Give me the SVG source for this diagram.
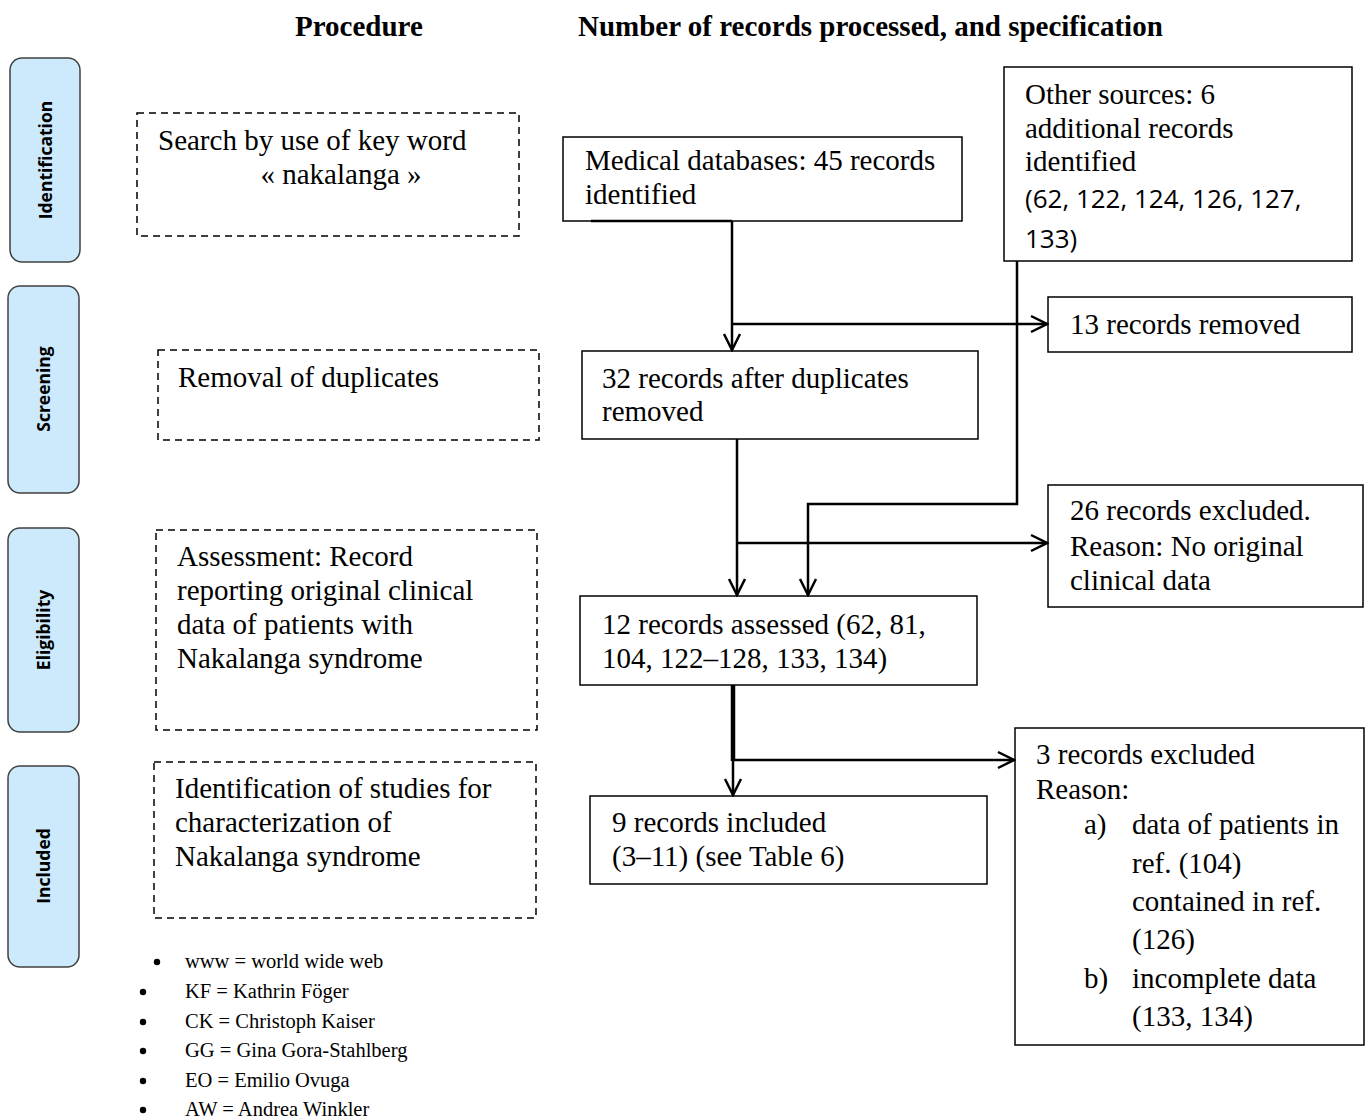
<svg xmlns="http://www.w3.org/2000/svg" width="1366" height="1118" viewBox="0 0 1366 1118">
<style>
.t{font-family:"Liberation Serif","Times New Roman",serif;font-size:29px;fill:#000}
.h{font-family:"Liberation Serif","Times New Roman",serif;font-size:29px;font-weight:bold;fill:#000}
.c{font-family:"Open Sans","Noto Sans",sans-serif;font-size:26px;fill:#000}
.s{font-family:"Liberation Serif","Times New Roman",serif;font-size:20.5px;fill:#000}
.side{fill:#cdeafc;stroke:#404040;stroke-width:1.5}
.sl{font-family:"Open Sans","Noto Sans",sans-serif;font-size:17.5px;font-weight:bold;fill:#000}
.dash{fill:none;stroke:#000;stroke-width:1.5;stroke-dasharray:7,5}
.box{fill:#fff;stroke:#000;stroke-width:1.5}
.ln{fill:none;stroke:#000;stroke-width:2.5}
</style>
<defs>
<marker id="arr" viewBox="0 0 20 20" refX="18" refY="10" markerWidth="20" markerHeight="20" markerUnits="userSpaceOnUse" orient="auto">
<path d="M2,2 L18,10 L2,18" fill="none" stroke="#000" stroke-width="2.5"/>
</marker>
</defs>
<rect width="1366" height="1118" fill="#fff"/>
<g id="headers">
<text class="h" x="295" y="36">Procedure</text>
<text class="h" x="578" y="36">Number of records processed, and specification</text>
</g>
<g id="side-identification"><rect class="side" x="10" y="58" width="70" height="204" rx="12"/><text class="sl" transform="translate(52,160) rotate(-90)" text-anchor="middle">Identification</text></g>
<g id="side-screening"><rect class="side" x="8" y="286" width="71" height="207" rx="12"/><text class="sl" transform="translate(50,389) rotate(-90)" text-anchor="middle">Screening</text></g>
<g id="side-eligibility"><rect class="side" x="8" y="528" width="71" height="204" rx="12"/><text class="sl" transform="translate(50,630) rotate(-90)" text-anchor="middle">Eligibility</text></g>
<g id="side-included"><rect class="side" x="8" y="766" width="71" height="201" rx="12"/><text class="sl" transform="translate(50,866) rotate(-90)" text-anchor="middle">Included</text></g>
<g id="proc-search"><rect class="dash" x="137" y="113" width="382" height="123"/><text class="t" x="158" y="150">Search by use of key word</text><text class="t" x="341" y="184" text-anchor="middle">« nakalanga »</text></g>
<g id="proc-dup"><rect class="dash" x="158" y="350" width="381" height="90"/><text class="t" x="178" y="387">Removal of duplicates</text></g>
<g id="proc-assess"><rect class="dash" x="156" y="530" width="381" height="200"/><text class="t" x="177" y="566">Assessment: Record</text><text class="t" x="177" y="600">reporting original clinical</text><text class="t" x="177" y="634">data of patients with</text><text class="t" x="177" y="668">Nakalanga syndrome</text></g>
<g id="proc-ident"><rect class="dash" x="154" y="762" width="382" height="156"/><text class="t" x="175" y="798">Identification of studies for</text><text class="t" x="175" y="832">characterization of</text><text class="t" x="175" y="866">Nakalanga syndrome</text></g>
<g id="n-medical"><rect class="box" x="563" y="137" width="399" height="84"/><text class="t" x="585" y="170">Medical databases: 45 records</text><text class="t" x="585" y="204">identified</text></g>
<g id="n-other"><rect class="box" x="1004" y="67" width="348" height="194"/><text class="t" x="1025" y="104">Other sources: 6</text><text class="t" x="1025" y="138">additional records</text><text class="t" x="1025" y="171">identified</text><text class="c" x="1025" y="208">(62, 122, 124, 126, 127,</text><text class="c" x="1025" y="248">133)</text></g>
<g id="n-removed"><rect class="box" x="1048" y="297" width="304" height="55"/><text class="t" x="1070" y="334">13 records removed</text></g>
<g id="n-32"><rect class="box" x="582" y="351" width="396" height="88"/><text class="t" x="602" y="388">32 records after duplicates</text><text class="t" x="602" y="421">removed</text></g>
<g id="n-26"><rect class="box" x="1048" y="485" width="315" height="122"/><text class="t" x="1070" y="520">26 records excluded.</text><text class="t" x="1070" y="556">Reason: No original</text><text class="t" x="1070" y="590">clinical data</text></g>
<g id="n-12"><rect class="box" x="580" y="596" width="397" height="89"/><text class="t" x="602" y="634">12 records assessed (62, 81,</text><text class="t" x="602" y="668">104, 122–128, 133, 134)</text></g>
<g id="n-9"><rect class="box" x="590" y="796" width="397" height="88"/><text class="t" x="612" y="832">9 records included</text><text class="t" x="612" y="866">(3–11) (see Table 6)</text></g>
<g id="n-3"><rect class="box" x="1015" y="728" width="349" height="317"/><text class="t" x="1036" y="764">3 records excluded</text><text class="t" x="1036" y="799">Reason:</text><text class="t" x="1084" y="834">a)</text><text class="t" x="1132" y="834">data of patients in</text><text class="t" x="1132" y="873">ref. (104)</text><text class="t" x="1132" y="911">contained in ref.</text><text class="t" x="1132" y="949">(126)</text><text class="t" x="1084" y="988">b)</text><text class="t" x="1132" y="988">incomplete data</text><text class="t" x="1132" y="1026">(133, 134)</text></g>
<g id="connectors">
<line class="ln" x1="591" y1="221" x2="732" y2="221"/>
<line class="ln" x1="732" y1="221" x2="732" y2="350" marker-end="url(#arr)"/>
<line class="ln" x1="732" y1="324" x2="1047" y2="324" marker-end="url(#arr)"/>
<polyline class="ln" points="1017,261 1017,504 808,504 808,595" marker-end="url(#arr)"/>
<line class="ln" x1="737" y1="439" x2="737" y2="595" marker-end="url(#arr)"/>
<line class="ln" x1="737" y1="543" x2="1047" y2="543" marker-end="url(#arr)"/>
<line stroke="#000" stroke-width="4.5" x1="733" y1="685" x2="733" y2="761"/>
<line class="ln" x1="733" y1="760" x2="733" y2="795" marker-end="url(#arr)"/>
<line class="ln" x1="733" y1="760" x2="1014" y2="760" marker-end="url(#arr)"/>
</g>
<g id="legend">
<circle cx="157" cy="962" r="3.2"/><text class="s" x="185" y="968">www = world wide web</text>
<circle cx="143" cy="992" r="3.2"/><text class="s" x="185" y="998">KF = Kathrin Föger</text>
<circle cx="143" cy="1022" r="3.2"/><text class="s" x="185" y="1028">CK = Christoph Kaiser</text>
<circle cx="143" cy="1051" r="3.2"/><text class="s" x="185" y="1057">GG = Gina Gora-Stahlberg</text>
<circle cx="143" cy="1081" r="3.2"/><text class="s" x="185" y="1087">EO = Emilio Ovuga</text>
<circle cx="143" cy="1110" r="3.2"/><text class="s" x="185" y="1116">AW = Andrea Winkler</text>
</g>
</svg>
